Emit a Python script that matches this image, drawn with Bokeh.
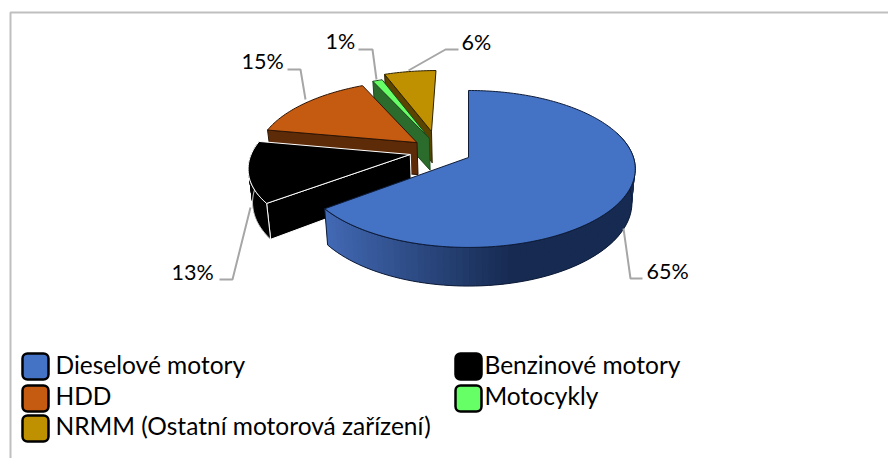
import numpy as np
from bokeh.plotting import figure
from bokeh.models import Range1d
from bokeh.core.properties import value
from bokeh.embed import file_html
from bokeh.resources import INLINE

categories = ["Dieselové motory", "Benzinové motory", "HDD", "Motocykly", "NRMM (Ostatní motorová zařízení)"]
shares = [64.6, 13.3, 15.0, 1.1, 6.0]
slice_labels = ["65%", "13%", "15%", "1%", "6%"]

top_colors = ["#4472C4", "#000000", "#C55A11", "#66FF66", "#BF9000"]
side_colors = ["#172B52", "#000000", "#5E2B08", "#2B6B2B", "#5A4400"]
edge_colors = ["#0E1C38", "#FFFFFF", "#2E1504", "#1C4A1C", "#2E2200"]
explode = [0.19, 0.19, 0.19, 0.19, 0.25]
radius = [1.0, 0.97, 0.98, 1.0, 1.0]
nudge_u = [0, 0, 0, 0, 0.035]

CX, CY, RX, RY, PERSP, DEPTH, BASE_X = 468.0, 157.0, 165.0, 76.8, 0.146, 33.0, 0.98
FONT = value("Lato")

p = figure(width=888, height=458, x_range=Range1d(0, 888), y_range=Range1d(458, 0),
           output_backend="svg", toolbar_location=None, min_border=0)
p.xaxis.visible = False
p.yaxis.visible = False
p.grid.visible = False
p.outline_line_color = None
p.background_fill_color = "white"
p.border_fill_color = "white"


def project(u, v, lower=False):
    u, v = np.asarray(u, float), np.asarray(v, float)
    w = 1 + PERSP * v
    x, y = RX * u / w, -RY * v / w
    if lower:
        return CX + BASE_X * x, CY + y + DEPTH / w
    return CX + x, CY + y


total = sum(shares)
edges = np.concatenate([[0], np.cumsum(shares)]) * 2 * np.pi / total
mid0 = (edges[0] + edges[1]) / 2
blue_dir = np.array([np.sin(mid0), np.cos(mid0)])

wedges = []
for i in range(len(shares)):
    a, b = edges[i], edges[i + 1]
    m = (a + b) / 2
    off = explode[i] * (np.array([np.sin(m), np.cos(m)]) - blue_dir) if i else np.zeros(2)
    off = off + np.array([nudge_u[i], 0.0])
    th = np.linspace(a, b, max(8, int(shares[i] * 3)))
    wedges.append(dict(a=a, b=b, off=off, th=th))

for i in [4, 3, 2, 1, 0]:
    W = wedges[i]
    ou, ov = W["off"]
    a, b, th = W["a"], W["b"], W["th"]
    r = radius[i]
    # radial faces that turn towards the viewer
    for ang, vis in ((a, np.sin(a) < -1e-6), (b, np.sin(b) > 1e-6)):
        if vis:
            uu = np.array([ou, ou + r * np.sin(ang)])
            vv = np.array([ov, ov + r * np.cos(ang)])
            x1, y1 = project(uu, vv)
            x2, y2 = project(uu, vv, True)
            p.patch(list(x1) + list(x2[::-1]), list(y1) + list(y2[::-1]),
                    fill_color=side_colors[i], line_color=edge_colors[i], line_width=1)
    # outer rim, lower half only
    t = np.linspace(a, b, 120)
    t = t[np.cos(t) < 0.35] if i in (0, 1) else t[:0]
    if len(t) > 1:
        uu, vv = ou + r * np.sin(t), ov + r * np.cos(t)
        x1, y1 = project(uu, vv)
        x2, y2 = project(uu, vv, True)
        n = len(t)
        order = range(n - 1) if i else range(n - 2, -1, -1)
        for k in order:
            if i == 0:
                f = np.clip((x1[k] - 330) / 190, 0, 1)
                c0 = np.array([0x43, 0x6A, 0xB5])
                c1 = np.array([0x17, 0x2B, 0x52])
                col = "#%02X%02X%02X" % tuple(int(q) for q in c0 + (c1 - c0) * f)
            else:
                col = side_colors[i]
            e = min(k + 2, n - 1)
            s = max(k - 1, 0)
            p.patch([x1[s], x1[e], x2[e], x2[s]], [y1[s], y1[e], y2[e], y2[s]],
                    fill_color=col, line_color=None)
        p.line(list(x1) + [x2[-1]] + list(x2[::-1]) + [x1[0]], list(y1) + [y2[-1]] + list(y2[::-1]) + [y1[0]],
               line_color=edge_colors[i], line_width=1)
    # top face
    uu = np.concatenate([[ou], ou + r * np.sin(th), [ou]])
    vv = np.concatenate([[ov], ov + r * np.cos(th), [ov]])
    x, y = project(uu, vv)
    p.patch(list(x), list(y), fill_color=top_colors[i], line_color=edge_colors[i], line_width=1)

# chart frame
p.line([10, 10, 888], [458, 12, 12], line_color="#BFBFBF", line_width=2)

# leader lines
leaders_x = [[623, 630, 642], [250, 232, 219], [305, 300, 287], [376, 372, 358], [408, 445, 458]]
leaders_y = [[228, 278, 278], [207, 279, 279], [99, 69, 69], [79, 49, 49], [70, 49, 49]]
p.multi_line(leaders_x, leaders_y, line_color="#A6A6A6", line_width=2)

label_x = [646, 171, 241, 325, 461]
label_y = [270, 271, 60, 40, 41]
p.text(label_x, label_y, text=slice_labels, text_font=FONT, text_font_size="21.5px",
       text_color="#000000", text_baseline="middle", text_align="left")

# legend
lx = [22, 455, 22, 455, 22]
ly = [353, 353, 385, 385, 415]
tx = [55, 484, 55, 484, 55]
ty = [364, 364, 395, 395, 425]
for i in range(5):
    p.quad(left=lx[i], right=lx[i] + 26, top=ly[i], bottom=ly[i] + 26,
           fill_color=top_colors[i], line_color="#000000", line_width=2.5, border_radius=5)
    p.text([tx[i]], [ty[i]], text=[categories[i]], text_font=FONT, text_font_size="24.5px",
           text_color="#000000", text_baseline="middle", text_align="left")

open("out.html", "w").write(file_html(p, INLINE))
